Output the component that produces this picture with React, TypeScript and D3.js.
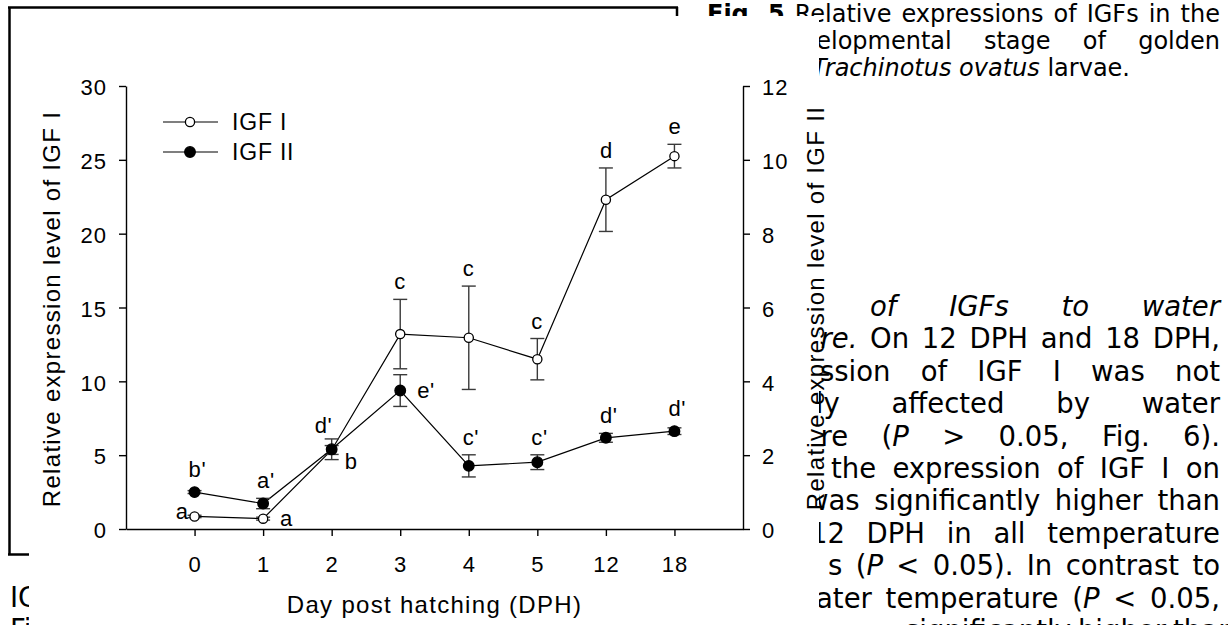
import React, { useEffect, useMemo, useRef } from "react";
import { select, scaleLinear, scalePoint, axisLeft, axisRight, axisBottom, line } from "d3";

// Day post hatching
const days = ["0", "1", "2", "3", "4", "5", "12", "18"];

// IGF I (left axis) and IGF II (right axis), mean and error
const igf1 = [0.85, 0.7, 5.35, 13.2, 12.95, 11.5, 22.3, 25.25];
const igf1Err = [0.08, 0.1, 0.3, 2.35, 3.5, 1.4, 2.15, 0.8];
const igf2 = [1.0, 0.69, 2.16, 3.75, 1.71, 1.81, 2.47, 2.65];
const igf2Err = [0.04, 0.14, 0.28, 0.43, 0.3, 0.2, 0.12, 0.09];

// significance letters and where they sit
const igf1Letters = ["a", "a", "b", "c", "c", "c", "d", "e"];
const igf1Side = ["left", "right", "lowright", "above", "above", "above", "above", "above"];
const igf2Letters = ["b'", "a'", "d'", "e'", "c'", "c'", "d'", "d'"];
const igf2Side = ["above", "above", "aboveleft", "right", "above", "above", "above", "above"];

const leftTicks = [0, 5, 10, 15, 20, 25, 30];
const rightTicks = [0, 2, 4, 6, 8, 10, 12];

// page text around the figure (*italic*, **bold**)
const captionLines = [
  "**Fig.** **5** Relative expressions of IGFs in the",
  "velopmental stage of golden",
  "*Trachinotus* *ovatus* larvae.",
];
const captionStart = [707, 802, 812];
const captionJustify = [true, true, false];

const bodyLines = [
  "*of* *IGFs* *to* *water*",
  "*ure.* On 12 DPH and 18 DPH,",
  "ession of IGF I was not",
  "tly affected by water",
  "ure (*P* > 0.05, Fig. 6).",
  "the expression of IGF I on",
  "was significantly higher than",
  "12 DPH in all temperature",
  "s (*P* < 0.05). In contrast to",
  "ater temperature (*P* < 0.05,",
  "significantly higher than",
];
const bodyStart = [870, 803, 803, 805, 803, 831, 806, 810, 828, 816, 905];

const leftColumn = ["IGF", "Fig."];

const W = 1228;
const H = 625;
const TEXT_FONT = "DejaVu Sans";
const CHART_FONT = "Liberation Sans, Arial, sans-serif";

const X0 = 126;
const X1 = 743;
const YB = 529;
const YT = 86;
const COVER_RIGHT = 819;

const xScale = scalePoint().domain(days).range([X0, X1]).padding(1);
const yLeft = scaleLinear().domain([0, 30]).range([YB, YT]);
const yRight = scaleLinear().domain([0, 12]).range([YB, YT]);

type Seg = { t: string; style: string };
type Word = { segs: Seg[]; x: number };

let ctx: CanvasRenderingContext2D | null = null;
function measure(t: string, size: number, style: string) {
  if (!ctx) ctx = document.createElement("canvas").getContext("2d");
  if (!ctx) return t.length * size * 0.6;
  ctx.font = `${style === "i" ? "italic " : ""}${style === "b" ? "bold " : ""}${size}px "${TEXT_FONT}"`;
  return ctx.measureText(t).width;
}

function parseWord(w: string): Seg[] {
  const parts = w.match(/\*\*[^*]+\*\*|\*[^*]+\*|[^*]+/g) || [];
  return parts.map((p) => {
    if (p.startsWith("**")) return { t: p.slice(2, -2), style: "b" };
    if (p.startsWith("*")) return { t: p.slice(1, -1), style: "i" };
    return { t: p, style: "n" };
  });
}

function layoutLine(src: string, x0: number, right: number, size: number, justify: boolean): Word[] {
  const words = src.split(" ").map(parseWord);
  const widths = words.map((segs) => segs.reduce((a, s) => a + measure(s.t, size, s.style), 0));
  const total = widths.reduce((a, b) => a + b, 0);
  const space = measure(" ", size, "n");
  let gap = justify && words.length > 1 ? (right - x0 - total) / (words.length - 1) : space;
  if (gap < space * 0.8) gap = space * 0.8;
  let x = x0;
  return words.map((segs, i) => {
    const out = { segs, x };
    x += widths[i] + gap;
    return out;
  });
}

function TextLine({ words, y, size }: { words: Word[]; y: number; size: number }) {
  return (
    <>
      {words.map((w, i) => (
        <text key={i} x={w.x} y={y} fontFamily={TEXT_FONT} fontSize={size} fill="#000">
          {w.segs.map((s, j) => (
            <tspan
              key={j}
              fontStyle={s.style === "i" ? "italic" : "normal"}
              fontWeight={s.style === "b" ? "bold" : "normal"}
            >
              {s.t}
            </tspan>
          ))}
        </text>
      ))}
    </>
  );
}

function labelPos(side: string, cx: number, cy: number, top: number) {
  switch (side) {
    case "left":
      return { x: cx - 6, y: cy + 3, anchor: "end" };
    case "right":
      return { x: cx + 17, y: cy + 7, anchor: "start" };
    case "lowright":
      return { x: cx + 13, y: cy + 19, anchor: "start" };
    case "aboveleft":
      return { x: cx - 17, y: top - 6, anchor: "start" };
    default:
      return { x: cx - 6, y: top - 10, anchor: "start" };
  }
}

function Series({
  values,
  errs,
  letters,
  sides,
  y,
  filled,
}: {
  values: number[];
  errs: number[];
  letters: string[];
  sides: string[];
  y: (v: number) => number;
  filled: boolean;
}) {
  const r = filled ? 5.3 : 4.6;
  const path = line<number>()
    .x((_, i) => xScale(days[i]) as number)
    .y((v) => y(v))(values);
  return (
    <g>
      <path d={path || ""} fill="none" stroke="#000" strokeWidth={1.2} />
      {values.map((v, i) => {
        const cx = xScale(days[i]) as number;
        const hi = y(v + errs[i]);
        const lo = y(v - errs[i]);
        return (
          <g key={"e" + i} stroke="#3a3a3a" strokeWidth={1.4}>
            <line x1={cx} x2={cx} y1={hi} y2={lo} />
            <line x1={cx - 7} x2={cx + 7} y1={hi} y2={hi} />
            <line x1={cx - 7} x2={cx + 7} y1={lo} y2={lo} />
          </g>
        );
      })}
      {values.map((v, i) => (
        <circle
          key={"c" + i}
          cx={xScale(days[i]) as number}
          cy={y(v)}
          r={r}
          fill={filled ? "#000" : "#fff"}
          stroke="#000"
          strokeWidth={1.3}
        />
      ))}
      {values.map((v, i) => {
        const cx = xScale(days[i]) as number;
        const cy = y(v);
        const top = Math.min(y(v + errs[i]), cy - r);
        const p = labelPos(sides[i], cx, cy, top);
        return (
          <text
            key={"l" + i}
            x={p.x}
            y={p.y}
            textAnchor={p.anchor}
            fontFamily={CHART_FONT}
            fontSize={22}
            letterSpacing={0.6}
            fill="#000"
          >
            {letters[i]}
          </text>
        );
      })}
    </g>
  );
}

function styleAxis(g: any) {
  g.attr("font-family", CHART_FONT).attr("font-size", 22);
  g.selectAll("path, line").attr("stroke", "#000").attr("stroke-width", 1.4);
  g.selectAll("text").attr("fill", "#000").attr("letter-spacing", 1);
}

export default function App() {
  const leftRef = useRef<SVGGElement>(null);
  const rightRef = useRef<SVGGElement>(null);
  const bottomRef = useRef<SVGGElement>(null);

  useEffect(() => {
    const gl = select(leftRef.current);
    gl.call(axisLeft(yLeft).tickValues(leftTicks).tickSize(7).tickSizeOuter(0).tickPadding(12) as any);
    styleAxis(gl);
    gl.selectAll("text").attr("dy", "0.4em");

    const gr = select(rightRef.current);
    gr.call(axisRight(yRight).tickValues(rightTicks).tickSize(7).tickSizeOuter(0).tickPadding(12) as any);
    styleAxis(gr);
    gr.selectAll("text").attr("dy", "0.4em");

    const gb = select(bottomRef.current);
    gb.call(axisBottom(xScale).tickSize(7).tickSizeOuter(0).tickPadding(20) as any);
    styleAxis(gb);
  }, []);

  const caption = useMemo(
    () => captionLines.map((s, i) => layoutLine(s, captionStart[i], 1220, 24, captionJustify[i])),
    []
  );
  const body = useMemo(() => bodyLines.map((s, i) => layoutLine(s, bodyStart[i], 1220, 27.5, true)), []);

  return (
    <svg
      width={W}
      height={H}
      style={{ position: "absolute", left: 0, top: 0, background: "#fff" }}
    >
      <rect width={W} height={H} fill="#fff" />

      {/* surrounding page */}
      {caption.map((words, i) => (
        <TextLine key={"cap" + i} words={words} y={22 + i * 27} size={24} />
      ))}
      {body.map((words, i) => (
        <TextLine key={"body" + i} words={words} y={316 + i * 32.4} size={27.5} />
      ))}
      {leftColumn.map((t, i) => (
        <text key={"lc" + i} x={10} y={607 + i * 32} fontFamily={TEXT_FONT} fontSize={27.5} fill="#000">
          {t}
        </text>
      ))}
      <g stroke="#000" strokeWidth={2.5} fill="none">
        <line x1={8} x2={678} y1={7.5} y2={7.5} />
        <line x1={9.5} x2={9.5} y1={7} y2={555} />
        <line x1={8} x2={30} y1={554.5} y2={554.5} />
        <line x1={677} x2={677} y1={7} y2={18} />
      </g>

      {/* figure */}
      <rect x={29} y={16} width={COVER_RIGHT - 29} height={H - 16} fill="#fff" />

      <g ref={leftRef} transform={`translate(${X0},0)`} />
      <g ref={rightRef} transform={`translate(${X1},0)`} />
      <g ref={bottomRef} transform={`translate(0,${YB})`} />

      <Series values={igf1} errs={igf1Err} letters={igf1Letters} sides={igf1Side} y={yLeft} filled={false} />
      <Series values={igf2} errs={igf2Err} letters={igf2Letters} sides={igf2Side} y={yRight} filled={true} />

      <text
        transform={`translate(60,309) rotate(-90)`}
        textAnchor="middle"
        fontFamily={CHART_FONT}
        fontSize={24}
        letterSpacing={1.3}
        fill="#000"
      >
        Relative expression level of IGF I
      </text>
      <text
        transform={`translate(824,308) rotate(-90)`}
        textAnchor="middle"
        fontFamily={CHART_FONT}
        fontSize={24}
        letterSpacing={1.3}
        fill="#000"
      >
        Relative expression level of IGF II
      </text>
      <text
        x={(X0 + X1) / 2}
        y={613}
        textAnchor="middle"
        fontFamily={CHART_FONT}
        fontSize={24}
        letterSpacing={1.3}
        fill="#000"
      >
        Day post hatching (DPH)
      </text>

      {/* legend */}
      {["IGF I", "IGF II"].map((name, i) => (
        <g key={name}>
          <line x1={163} x2={218} y1={122 + i * 30} y2={122 + i * 30} stroke="#000" strokeWidth={1.2} />
          <circle
            cx={190}
            cy={122 + i * 30}
            r={i === 0 ? 4.6 : 5.3}
            fill={i === 0 ? "#fff" : "#000"}
            stroke="#000"
            strokeWidth={1.3}
          />
          <text x={232} y={130 + i * 30} fontFamily={CHART_FONT} fontSize={23} letterSpacing={0.8} fill="#000">
            {name}
          </text>
        </g>
      ))}
    </svg>
  );
}
